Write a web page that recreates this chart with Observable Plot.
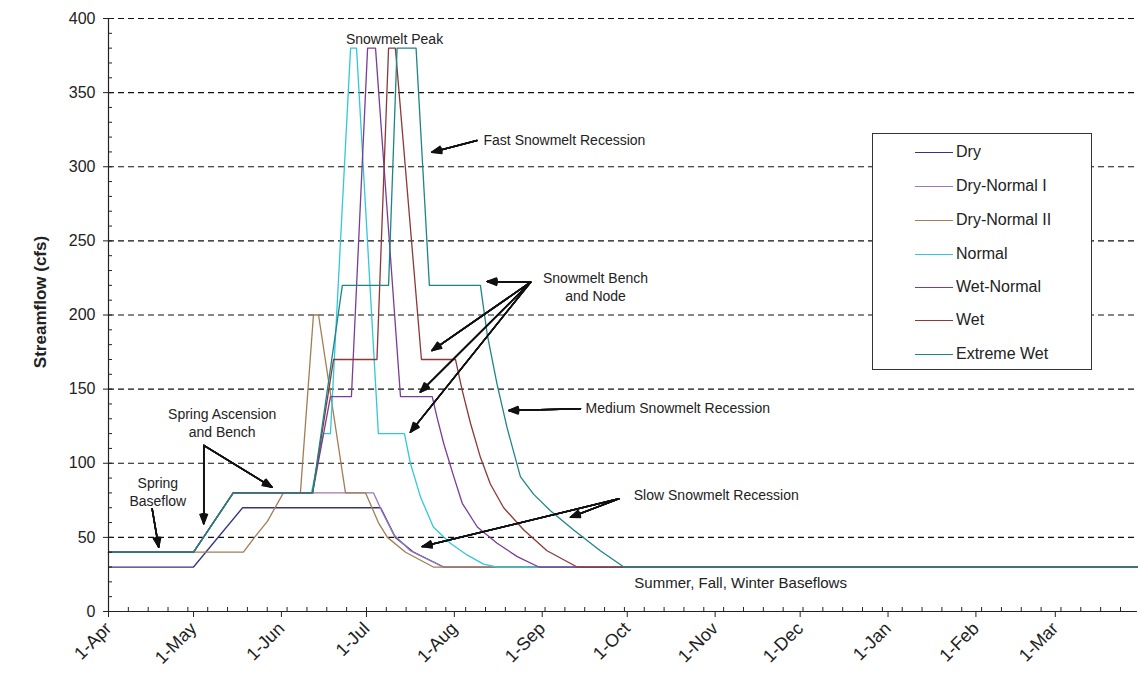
<!DOCTYPE html>
<html>
<head>
<meta charset="utf-8">
<script src="https://cdn.jsdelivr.net/npm/d3@7"></script>
<script src="https://cdn.jsdelivr.net/npm/@observablehq/plot@0.6"></script>
<style>
  body { margin: 0; background: #fff; font-family: "Liberation Sans", Arial, sans-serif; }
  #wrap { position: relative; width: 1138px; height: 674px; overflow: hidden; }
  #legend { position: absolute; left: 872px; top: 133px; width: 218px; height: 235px;
            border: 1.5px solid #333; background: #fff; }
  .row { position: absolute; left: 42px; height: 20px; display: flex; align-items: center;
         font-size: 16px; color: #222; white-space: nowrap; }
  .sw { width: 38px; height: 0; border-top: 1.4px solid; margin-right: 3px; }
</style>
</head>
<body>
<div id="wrap"></div>
<script>
// Hydrograph scenarios: flow (cfs) against days since 1 April
const scenarios = ["Dry", "Dry-Normal I", "Dry-Normal II", "Normal", "Wet-Normal", "Wet", "Extreme Wet"];
const colors = ["#34347f", "#9a78b8", "#a27d55", "#33c8d8", "#7a3c96", "#8c3838", "#1e8585"];

const dryDays = [0, 30, 47.3, 96, 101.2, 107.6, 118.2, 363];
const dryFlow = [30, 30, 70, 70, 50, 40, 30, 30];

const dryNormalIDays = [0, 30, 44, 93.5, 96.6, 100.6, 106.5, 118.2, 363];
const dryNormalIFlow = [40, 40, 80, 80, 67, 52, 41, 30, 30];

const dryNormalIIDays = [0, 47.6, 51.1, 56.1, 61.7, 67.7, 72.3, 74.1, 83.6, 90.7, 95.2, 98.4, 104.8, 114.6, 363];
const dryNormalIIFlow = [40, 40, 49, 61, 80, 80, 200, 200, 80, 80, 60, 50, 40, 30, 30];

const normalDays = [0, 30, 44, 71.6, 75.8, 78.3, 85.4, 87.5, 95.2, 104.4, 106.5, 110.1, 114.6, 120.6, 126.6, 132.3, 137.2, 363];
const normalFlow = [40, 40, 80, 80, 120, 120, 380, 380, 120, 120, 100, 77, 57, 46, 38, 32, 30, 30];

const wetNormalDays = [0, 30, 44, 72, 78.3, 85.7, 91.4, 94.2, 103, 114.2, 115.9, 118.3, 121.8, 124.8, 130.1, 137.1, 144.2, 151.8, 363];
const wetNormalFlow = [40, 40, 80, 80, 145, 145, 380, 380, 145, 145, 131, 113, 91, 73, 57, 46, 37, 30, 30];

const wetDays = [0, 30, 44, 72, 79.4, 94.7, 98.8, 101.2, 110.4, 122.4, 124.8, 127.7, 131.2, 134.7, 139.4, 146.5, 154.7, 165.3, 363];
const wetFlow = [40, 40, 80, 80, 170, 170, 380, 380, 170, 170, 149, 127, 104, 86, 70, 55, 41, 30, 30];

const extremeWetDays = [0, 30, 44, 72, 82.5, 98.8, 101.8, 108.5, 113.2, 131.2, 133.6, 137.1, 140.6, 145.3, 150, 155.9, 164.1, 173.5, 181.8, 363];
const extremeWetFlow = [40, 40, 80, 80, 220, 220, 380, 380, 220, 220, 187, 153, 124, 91, 79, 68, 55, 41, 30, 30];

const seriesDays = [dryDays, dryNormalIDays, dryNormalIIDays, normalDays, wetNormalDays, wetDays, extremeWetDays];
const seriesFlow = [dryFlow, dryNormalIFlow, dryNormalIIFlow, normalFlow, wetNormalFlow, wetFlow, extremeWetFlow];

// Axis ticks
const yTicks = [0, 50, 100, 150, 200, 250, 300, 350, 400];
const yMinorTicks = d3.range(0, 401, 10);
const gridValues = [50, 100, 150, 200, 250, 300, 350, 400];

// Annotation text (anchor position in days since 1 April / cfs)
const noteText = ["Snowmelt Peak", "Fast Snowmelt Recession", "Snowmelt Bench\nand Node", "Medium Snowmelt Recession",
                  "Slow Snowmelt Recession", "Spring Ascension\nand Bench", "Spring\nBaseflow", "Summer, Fall, Winter Baseflows"];
const noteDay = [100.9, 132.3, 171.8, 168.3, 185.3, 40.1, 17.4, 185.5];
const noteFlow = [386.5, 318.8, 219.2, 137.8, 79.4, 127.4, 81.2, 20.2];
const noteAnchor = ["middle", "start", "middle", "start", "start", "middle", "middle", "start"];
const noteSize = [14, 14, 14, 14, 14, 14, 14, 15];

// Annotation arrows: tail -> head
const arrowFromDay = [130.0, 148.9, 148.9, 148.9, 148.9, 166.5, 180.0, 180.0, 33.6, 33.6, 15.4];
const arrowFromFlow = [317.7, 222.1, 222.1, 222.1, 222.1, 136.7, 76, 76, 112, 112, 69.3];
const arrowToDay = [114.1, 133.6, 114.1, 110.0, 106.5, 141.2, 163.0, 110.7, 33.6, 57.7, 17.7];
const arrowToFlow = [309.8, 222.6, 176, 148, 121, 135.6, 63.6, 43.8, 59.2, 83.8, 43.4];

// ---------------------------------------------------------------------------
const start = new Date(Date.UTC(2001, 3, 1));
const day = (d) => new Date(start.getTime() + d * 864e5);
const end = day(363);

const rows = [];
scenarios.forEach((name, i) => {
  seriesDays[i].forEach((d, j) => rows.push({scenario: name, date: day(d), flow: seriesFlow[i][j]}));
});

const notes = noteText.map((t, i) => ({
  text: t, date: day(noteDay[i]), flow: noteFlow[i], anchor: noteAnchor[i], size: noteSize[i]
}));
const arrows = arrowFromDay.map((d, i) => ({
  x1: day(d), y1: arrowFromFlow[i], x2: day(arrowToDay[i]), y2: arrowToFlow[i]
}));

const monthTicks = d3.utcMonth.range(start, end);
const weekTicks = d3.range(0, 363, 7).map(day);
const fmt = d3.utcFormat("%-d-%b");

// filled-looking arrowheads: stack several heads with narrowing angles
const arrowLayers = [44, 34, 24, 14, 5].map((a) =>
  Plot.arrow(arrows, {x1: "x1", y1: "y1", x2: "x2", y2: "y2", stroke: "#111", strokeWidth: 1.5,
                      headAngle: a, headLength: 10})
);

const noteStyle = {x: "date", y: "flow", text: "text", fontSize: "size", fill: "#222", lineHeight: 1.28};

const chart = Plot.plot({
  width: 1138,
  height: 674,
  marginLeft: 108,
  marginRight: 1,
  marginTop: 18,
  marginBottom: 63,
  style: {fontFamily: "'Liberation Sans', Arial, sans-serif", color: "#222", background: "#fff", overflow: "visible"},
  x: {type: "utc", domain: [start, end]},
  y: {domain: [0, 400]},
  color: {domain: scenarios, range: colors},
  marks: [
    Plot.ruleY(gridValues, {stroke: "#111", strokeWidth: 1.1, strokeDasharray: "6,4"}),
    Plot.line(rows, {x: "date", y: "flow", z: "scenario", stroke: "scenario", strokeWidth: 1.3}),
    Plot.ruleY([0], {stroke: "#222", strokeWidth: 1.2}),
    Plot.ruleX([start], {stroke: "#222", strokeWidth: 1.2}),
    Plot.axisY({ticks: yTicks, tickSize: 5, tickPadding: 8, fontSize: 16, label: null, stroke: "#222"}),
    Plot.axisY({ticks: yMinorTicks, tickSize: 4, dx: 4, text: null, label: null, stroke: "#222"}),
    Plot.axisX({ticks: monthTicks, tickFormat: fmt, tickSize: 6, tickPadding: 8, tickRotate: -45,
                fontSize: 18, label: null, stroke: "#222"}),
    Plot.axisX({ticks: weekTicks, tickSize: 4, dy: -4, text: null, label: null, stroke: "#222"}),
    Plot.text(["Streamflow (cfs)"], {frameAnchor: "left", textAnchor: "middle", dx: -68, dy: -13, rotate: -90,
                                     fontSize: 17, fontWeight: "bold", fill: "#222"}),
    ...arrowLayers,
    Plot.text(notes, {...noteStyle, filter: (d) => d.anchor === "middle", textAnchor: "middle"}),
    Plot.text(notes, {...noteStyle, filter: (d) => d.anchor === "start", textAnchor: "start"})
  ]
});

const wrap = document.getElementById("wrap");
wrap.appendChild(chart);

// legend box drawn over the plot area
const legend = document.createElement("div");
legend.id = "legend";
const rowTops = [8, 42, 76, 110, 143, 176, 210];
scenarios.forEach((name, i) => {
  const r = document.createElement("div");
  r.className = "row";
  r.style.top = rowTops[i] + "px";
  const sw = document.createElement("span");
  sw.className = "sw";
  sw.style.borderTopColor = colors[i];
  const t = document.createElement("span");
  t.textContent = name;
  r.appendChild(sw);
  r.appendChild(t);
  legend.appendChild(r);
});
wrap.appendChild(legend);
</script>
</body>
</html>
